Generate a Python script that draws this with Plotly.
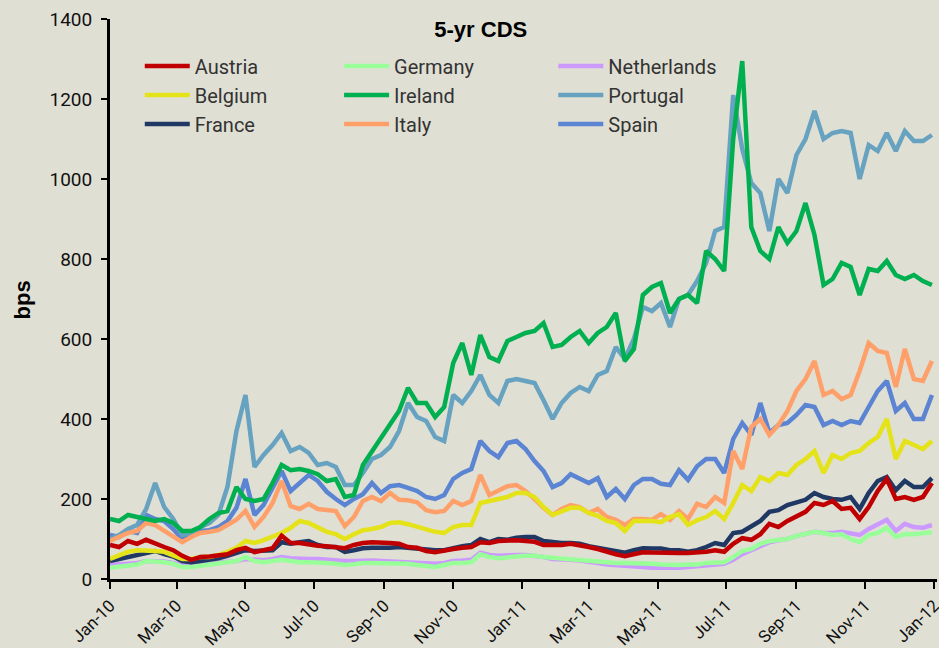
import pandas as pd
import plotly.graph_objects as go

# 8-day sampling grid, Jan-2010 .. Dec-2011
dates = pd.date_range("2010-01-01", periods=92, freq="8D")

austria = [85, 80, 95, 88, 98, 88, 80, 72, 58, 48, 55, 56, 58, 62, 72, 78, 67, 72, 77, 108,
           90, 90, 86, 83, 82, 80, 77, 85, 90, 92, 92, 90, 88, 80, 78, 70, 67, 72, 75, 78,
           80, 92, 90, 95, 97, 97, 95, 93, 85, 85, 85, 88, 85, 80, 75, 68, 62, 57, 62, 67,
           66, 65, 66, 65, 65, 66, 68, 72, 68, 88, 102, 98, 112, 138, 130, 145, 155, 168, 190, 185,
           195, 175, 178, 150, 180, 220, 250, 200, 205, 198, 205, 240]
belgium = [50, 60, 68, 72, 72, 70, 68, 58, 50, 50, 55, 55, 60, 68, 78, 95, 90, 97, 105, 115,
           128, 145, 140, 130, 118, 112, 100, 112, 122, 125, 130, 140, 142, 137, 130, 124, 118, 115, 130, 135,
           135, 190, 195, 200, 205, 215, 215, 205, 180, 160, 170, 178, 178, 165, 158, 145, 140, 120, 145, 145,
           145, 142, 155, 162, 135, 147, 155, 170, 150, 190, 235, 220, 255, 245, 265, 260, 285, 300, 320, 265,
           310, 300, 315, 320, 340, 355, 400, 300, 345, 335, 325, 345]
france = [45, 50, 55, 58, 65, 70, 62, 56, 45, 42, 45, 48, 52, 58, 65, 72, 70, 72, 72, 92,
          88, 92, 95, 85, 80, 80, 68, 72, 77, 78, 77, 78, 80, 78, 75, 72, 72, 72, 78, 82,
          85, 100, 92, 100, 98, 103, 105, 105, 95, 92, 90, 90, 88, 82, 78, 75, 72, 66, 72, 77,
          76, 76, 72, 72, 68, 72, 80, 90, 85, 115, 118, 130, 145, 168, 172, 185, 192, 198, 215, 205,
          200, 198, 205, 175, 215, 245, 255, 222, 245, 230, 230, 252]
germany = [28, 30, 33, 36, 45, 44, 42, 38, 30, 30, 33, 35, 38, 40, 45, 55, 45, 42, 45, 48,
           45, 42, 42, 42, 40, 38, 35, 37, 40, 40, 40, 40, 40, 38, 35, 32, 30, 35, 40, 40,
           42, 62, 55, 52, 55, 56, 58, 58, 55, 53, 52, 50, 48, 47, 45, 42, 40, 40, 40, 40,
           38, 36, 35, 35, 36, 36, 40, 42, 42, 55, 70, 75, 88, 95, 98, 100, 108, 112, 118, 115,
           110, 112, 100, 92, 110, 115, 128, 105, 112, 112, 115, 117]
ireland = [150, 145, 160, 155, 150, 145, 150, 140, 120, 120, 130, 150, 165, 170, 230, 200, 195, 200, 240, 285,
           272, 275, 270, 262, 245, 250, 205, 210, 285, 320, 355, 390, 420, 478, 440, 440, 405, 430, 540, 590,
           510, 610, 555, 545, 595, 605, 615, 620, 640, 580, 585, 605, 620, 590, 615, 630, 665, 545, 575, 710,
           730, 740, 665, 700, 710, 690, 820, 800, 770, 1100, 1295, 880, 820, 800, 880, 840, 870, 940, 860, 735,
           750, 790, 780, 710, 775, 770, 795, 760, 750, 760, 745, 735]
italy = [95, 105, 115, 120, 140, 135, 120, 108, 92, 105, 115, 118, 122, 135, 148, 170, 130, 155, 190, 245,
         182, 175, 188, 175, 172, 170, 132, 155, 195, 205, 195, 215, 198, 197, 192, 172, 167, 170, 195, 185,
         195, 260, 210, 220, 232, 235, 220, 200, 178, 160, 175, 185, 180, 165, 175, 155, 148, 135, 150, 150,
         148, 162, 148, 170, 150, 188, 180, 205, 190, 320, 275, 380, 400, 360, 385, 420, 470, 500, 545, 460,
         470, 450, 460, 520, 590, 570, 565, 480, 575, 500, 495, 545]
netherlands = [35, 37, 38, 40, 45, 45, 44, 40, 35, 35, 37, 38, 40, 42, 45, 50, 48, 47, 50, 55,
               52, 50, 50, 50, 48, 47, 45, 45, 46, 46, 45, 44, 42, 42, 40, 38, 38, 40, 45, 46,
               48, 66, 60, 58, 60, 60, 60, 58, 55, 50, 50, 48, 46, 44, 40, 36, 35, 34, 32, 30,
               28, 28, 27, 28, 30, 32, 34, 36, 38, 48, 62, 72, 82, 92, 97, 100, 108, 112, 118, 115,
               115, 118, 115, 110, 125, 135, 148, 120, 138, 130, 128, 135]
portugal = [100, 110, 125, 135, 175, 240, 180, 150, 110, 115, 130, 140, 160, 230, 370, 460, 280, 310, 335, 365,
            320, 330, 315, 285, 290, 280, 235, 235, 265, 300, 310, 330, 370, 440, 405, 395, 355, 345, 460, 440,
            470, 510, 460, 440, 495, 500, 495, 490, 447, 400, 440, 465, 480, 470, 510, 520, 580, 550, 600, 680,
            670, 690, 630, 700, 710, 745, 790, 870, 880, 1210, 1075, 990, 965, 870, 1000, 965, 1060, 1100, 1170, 1100,
            1115, 1120, 1115, 1000, 1085, 1070, 1115, 1070, 1120, 1095, 1095, 1110]
spain = [110, 105, 120, 115, 160, 150, 145, 125, 100, 110, 120, 122, 130, 145, 178, 250, 160, 185, 225, 270,
         220, 240, 260, 245, 218, 200, 185, 200, 212, 240, 215, 232, 235, 228, 220, 205, 200, 210, 250, 265,
         275, 345, 320, 305, 340, 345, 325, 295, 270, 230, 240, 262, 250, 240, 252, 205, 225, 200, 235, 250,
         250, 238, 235, 272, 248, 282, 300, 300, 265, 350, 390, 360, 440, 365, 385, 390, 410, 435, 430, 385,
         395, 385, 395, 390, 430, 470, 495, 420, 440, 400, 400, 460]

tick_dates = pd.date_range("2010-01-01", "2012-01-01", freq="2MS")
tick_labels = [d.strftime("%b-%y") for d in tick_dates]

series = [
    ("Austria", austria, "#c00000", "legend", 1),
    ("Belgium", belgium, "#e4e31a", "legend", 2),
    ("France", france, "#1f3864", "legend", 3),
    ("Germany", germany, "#99ff99", "legend2", 4),
    ("Ireland", ireland, "#00b050", "legend2", 5),
    ("Italy", italy, "#ffa06a", "legend2", 6),
    ("Netherlands", netherlands, "#cc99ff", "legend3", 7),
    ("Portugal", portugal, "#67a2c0", "legend3", 8),
    ("Spain", spain, "#5b84d2", "legend3", 9),
]

BG = "#e0dfd4"
FONT = "Roboto, Liberation Sans, sans-serif"

fig = go.Figure()
for name, vals, color, leg, rank in reversed(series):
    fig.add_trace(go.Scatter(
        x=dates, y=vals, name=name, mode="lines",
        line=dict(color=color, width=4.5),
        legend=leg, legendrank=rank,
    ))

leg_common = dict(
    orientation="v", bgcolor="rgba(0,0,0,0)", borderwidth=0,
    font=dict(family=FONT, size=20, color="#333333"),
    xanchor="left", yanchor="top", tracegroupgap=0, itemwidth=45,
)
fig.update_layout(
    width=939, height=648,
    paper_bgcolor=BG, plot_bgcolor=BG,
    margin=dict(l=110, r=2, t=19, b=69, autoexpand=False),
    font=dict(family=FONT, size=19, color="#222222"),
    title=dict(text="<b>5-yr CDS</b>", x=0.512, xanchor="center", y=0.955, yanchor="middle",
               font=dict(family="Liberation Sans, Arial, sans-serif", size=22, color="#000000")),
    legend=dict(x=0.036, y=0.951, **leg_common),
    legend2=dict(x=0.277, y=0.951, **leg_common),
    legend3=dict(x=0.536, y=0.951, **leg_common),
    xaxis=dict(
        range=["2010-01-01", "2012-01-03 12:00"], tickvals=list(tick_dates), ticktext=tick_labels,
        tickangle=-45, ticks="outside", ticklen=7, tickwidth=2, tickcolor="#000",
        showline=True, linecolor="#000", linewidth=3, showgrid=False, zeroline=False,
        tickfont=dict(size=17, color="#111111"), automargin=False,
        ticklabeloverflow="allow",
    ),
    yaxis=dict(
        range=[0, 1400], dtick=200, ticks="outside", ticklen=6, tickwidth=2, tickcolor="#000",
        showline=True, linecolor="#000", linewidth=3, showgrid=False, zeroline=False,
        tickfont=dict(size=19, color="#111111"), automargin=False, ticklabelstandoff=5,
    ),
    annotations=[dict(
        text="<b>bps</b>", textangle=-90, xref="paper", yref="paper",
        x=-0.106, y=0.498, xanchor="center", yanchor="middle", showarrow=False,
        font=dict(family="Liberation Sans, Arial, sans-serif", size=22, color="#000000"),
    )],
)

fig.write_html(
    "out.html",
    config={"displayModeBar": False},
    post_script="document.body.style.margin='0';document.body.style.padding='0';"
                "document.body.style.background='" + BG + "';",
)
